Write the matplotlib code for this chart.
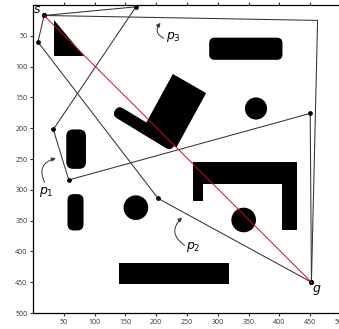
import numpy as np
import matplotlib
matplotlib.use('Agg')
import matplotlib.pyplot as plt
from matplotlib.patches import Polygon, Circle, FancyBboxPatch, FancyArrowPatch
from matplotlib.transforms import Affine2D

plt.rcParams['font.family'] = ['Open Sans', 'DejaVu Sans']
plt.rcParams['mathtext.fontset'] = 'dejavusans'

# start / goal
start = (18, 17)
goal = (452, 450)

# three candidate paths (waypoints between start and goal)
p1_x = [18, 167, 33, 58, 450, 452]
p1_y = [17, 3, 202, 284, 176, 450]
p2_x = [18, 8, 203, 452]
p2_y = [17, 60, 314, 450]
p3_x = [18, 462, 452]
p3_y = [17, 25, 450]

# obstacles
triangle = [(34, 25), (34, 83), (82, 83)]
tilted_box = [(227, 112), (281, 143), (233, 231), (179, 200)]
u_shape = [(260, 255), (429, 255), (429, 365), (404, 365),
           (404, 290), (276, 290), (276, 318), (260, 318)]
circles_xy = [(362, 168), (167, 329), (342, 349)]
circles_r = [18, 20, 20]
# rounded boxes: x, y, w, h, rounding
round_boxes = [(286, 53, 119, 36, 9), (54, 202, 32, 64, 11), (56, 307, 26, 59, 10)]
plain_boxes = [(140, 419, 178, 34)]
# tilted stadium: centre, length, width, angle
bar_c = (181, 200)
bar_len = 112
bar_w = 19
bar_ang = 31.3

fig = plt.figure(figsize=(3.39, 3.29), dpi=100)
ax = fig.add_axes([33 / 339, 16 / 329, 308 / 339, 308 / 329])

for pts in [triangle, tilted_box, u_shape]:
    ax.add_patch(Polygon(pts, closed=True, fc='black', ec='none'))
for (cx, cy), r in zip(circles_xy, circles_r):
    ax.add_patch(Circle((cx, cy), r, fc='black', ec='none'))
for x, y, w, h, rr in round_boxes:
    ax.add_patch(FancyBboxPatch((x + rr, y + rr), w - 2 * rr, h - 2 * rr,
                                boxstyle='round,pad=%g,rounding_size=%g' % (rr, rr),
                                fc='black', ec='none'))
for x, y, w, h in plain_boxes:
    ax.add_patch(Polygon([(x, y), (x + w, y), (x + w, y + h), (x, y + h)],
                         fc='black', ec='none'))
r = bar_w / 2
bar = FancyBboxPatch((bar_c[0] - bar_len / 2 + r, bar_c[1]), bar_len - 2 * r, 0,
                     boxstyle='round,pad=%g,rounding_size=%g' % (r, r),
                     fc='black', ec='none')
bar.set_transform(Affine2D().rotate_deg_around(bar_c[0], bar_c[1], bar_ang) + ax.transData)
ax.add_patch(bar)

# paths
for xs, ys in [(p1_x, p1_y), (p2_x, p2_y)]:
    ax.plot(xs, ys, color='#333333', lw=0.75, marker='o', ms=2.4, mfc='black', mec='black')
ax.plot(p3_x, p3_y, color='#333333', lw=0.75)
ax.plot(p3_x[::2], p3_y[::2], 'o', color='black', ms=2.4)
ax.plot([start[0], goal[0]], [start[1], goal[1]], color='#cc1111', lw=0.7)

# labels
ax.text(6, 8, r'$s$', fontsize=9, ha='center', va='center')
ax.text(461, 463, r'$g$', fontsize=9, ha='center', va='center')
labels = [(r'$p_1$', (22, 304), (19, 288), (37, 249), -0.6),
          (r'$p_2$', (260, 393), (246, 390), (242, 345), -0.6),
          (r'$p_3$', (228, 52), (212, 54), (207, 29), -0.6)]
for txt, pos, tail, tip, rad in labels:
    ax.text(pos[0], pos[1], txt, fontsize=9, ha='center', va='center')
    ax.add_patch(FancyArrowPatch(tail, tip, arrowstyle='-|>', mutation_scale=6,
                                 connectionstyle='arc3,rad=%g' % rad,
                                 shrinkA=0, shrinkB=0,
                                 color='#333333', lw=0.7))

ax.set_xlim(0, 500)
ax.set_ylim(500, 0)
ax.set_xticks(np.arange(50, 501, 50))
ax.set_yticks(np.arange(50, 501, 50))
ax.tick_params(direction='out', length=2.5, width=0.8, labelsize=5, colors='#333333',
               top=True, labeltop=False, pad=1.5)
for sp in ax.spines.values():
    sp.set_linewidth(0.9)

fig.savefig('out.png', dpi=100)
